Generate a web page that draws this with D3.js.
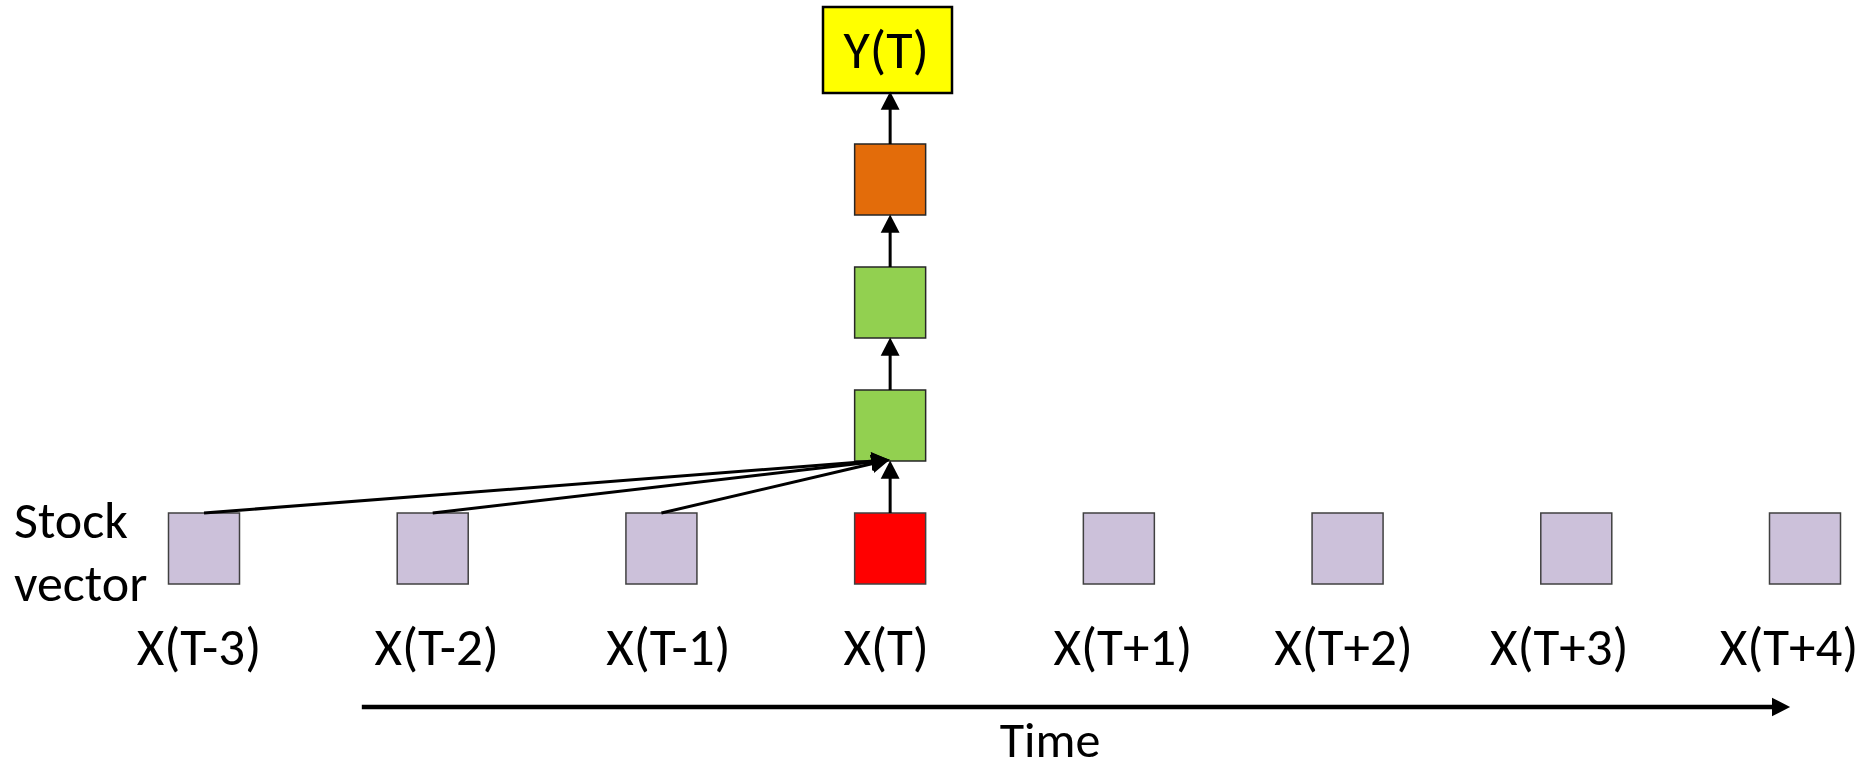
<!DOCTYPE html>
<html>
<head>
<meta charset="utf-8">
<script src="https://cdn.jsdelivr.net/npm/d3@7"></script>
<style>
  html, body { margin: 0; padding: 0; background: #fff; }
  svg { display: block; }
  text { font-family: Calibri, Carlito, Lato, "Open Sans", sans-serif; fill: #000; }
</style>
</head>
<body>
<svg id="chart" width="1869" height="771"></svg>
<script>
// ---------- data ----------
const timeSteps = ["X(T-3)", "X(T-2)", "X(T-1)", "X(T)", "X(T+1)", "X(T+2)", "X(T+3)", "X(T+4)"];
const stepRole  = ["past", "past", "past", "current", "future", "future", "future", "future"];
const connectedSteps = ["X(T-3)", "X(T-2)", "X(T-1)"];   // diagonal links into first layer
const currentStep = "X(T)";
const layers = ["hidden1", "hidden2", "output"];          // stack above X(T)
const layerRole = ["hidden", "hidden", "output"];
const targetLabel = "Y(T)";
const rowLabel = ["Stock", "vector"];
const axisLabel = "Time";

// ---------- layout / style ----------
const boxSize = 71;
const colors = {
  past: "#CCC1DA", future: "#CCC1DA", current: "#FF0000",
  hidden: "#92D050", output: "#E36C0A", target: "#FFFF00"
};
const labelNudge = [-5, 4, 7, -4, 4, -4, -17, -16];

const svg = d3.select("#chart");

const x = d3.scalePoint().domain(timeSteps).range([204, 1805]);
// vertical level: 0 = input row, 1..3 = stacked layers (box top positions)
const level = d3.scaleLinear().domain([0, 3]).range([513, 144]);

// arrow marker
const defs = svg.append("defs");
defs.append("marker")
  .attr("id", "ah").attr("markerUnits", "userSpaceOnUse")
  .attr("markerWidth", 20).attr("markerHeight", 20)
  .attr("viewBox", "0 -9 18 18").attr("refX", 2).attr("refY", 0)
  .attr("orient", "auto")
  .append("path").attr("d", "M0,-8.5L16.5,0L0,8.5Z").attr("fill", "#000");

function arrow(x1, y1, x2, y2, w) {
  const dx = x2 - x1, dy = y2 - y1, L = Math.hypot(dx, dy);
  const k = (L - 14.5) / L;
  svg.append("line")
    .attr("x1", x1).attr("y1", y1)
    .attr("x2", x1 + dx * k).attr("y2", y1 + dy * k)
    .attr("stroke", "#000").attr("stroke-width", w || 3)
    .attr("marker-end", "url(#ah)");
}

const cx = x(currentStep);

// input row boxes
svg.append("g").selectAll("rect").data(timeSteps).join("rect")
  .attr("x", d => x(d) - boxSize / 2)
  .attr("y", level(0))
  .attr("width", boxSize).attr("height", boxSize)
  .attr("fill", (d, i) => colors[stepRole[i]])
  .attr("stroke", "#404040").attr("stroke-width", 1.5);

// stacked layer boxes
svg.append("g").selectAll("rect").data(layers).join("rect")
  .attr("x", cx - boxSize / 2)
  .attr("y", (d, i) => level(i + 1))
  .attr("width", boxSize).attr("height", boxSize)
  .attr("fill", (d, i) => colors[layerRole[i]])
  .attr("stroke", "#262626").attr("stroke-width", 1.5);

// target box
const tgt = { x: 823, y: 7, w: 129, h: 86 };
svg.append("rect")
  .attr("x", tgt.x).attr("y", tgt.y).attr("width", tgt.w).attr("height", tgt.h)
  .attr("fill", colors.target).attr("stroke", "#000").attr("stroke-width", 2.5);
svg.append("text")
  .attr("x", cx - 4).attr("y", 68)
  .attr("text-anchor", "middle").attr("font-size", 54)
  .text(targetLabel);

// vertical arrows through the stack
const firstLayerBottom = level(1) + boxSize;
arrow(cx, level(0), cx, firstLayerBottom + 1);
for (let i = 1; i < layers.length; i++) {
  arrow(cx, level(i), cx, level(i + 1) + boxSize + 1);
}
arrow(cx, level(3), cx, tgt.y + tgt.h);

// diagonal links from past steps
connectedSteps.forEach(s => arrow(x(s), level(0), cx - 2, firstLayerBottom - 1));

// step labels
svg.append("g").selectAll("text").data(timeSteps).join("text")
  .attr("x", (d, i) => x(d) + labelNudge[i])
  .attr("y", 665)
  .attr("text-anchor", "middle").attr("font-size", 53)
  .text(d => d);

// row label
svg.append("text")
  .attr("x", 14).attr("y", 538).attr("font-size", 52)
  .selectAll("tspan").data(rowLabel).join("tspan")
  .attr("x", 14).attr("dy", (d, i) => i ? 63 : 0)
  .text(d => d);

// time axis arrow
const step = x.step();
const tStart = x(timeSteps[1]) - step * 0.31;
const tEnd = x(timeSteps[timeSteps.length - 1]) - 17;
svg.append("line")
  .attr("x1", tStart).attr("y1", 707).attr("x2", tEnd - 14).attr("y2", 707)
  .attr("stroke", "#000").attr("stroke-width", 4.5)
  .attr("marker-end", "url(#ah)");
svg.append("text")
  .attr("x", 1050).attr("y", 757)
  .attr("text-anchor", "middle").attr("font-size", 50)
  .text(axisLabel);
</script>
</body>
</html>
